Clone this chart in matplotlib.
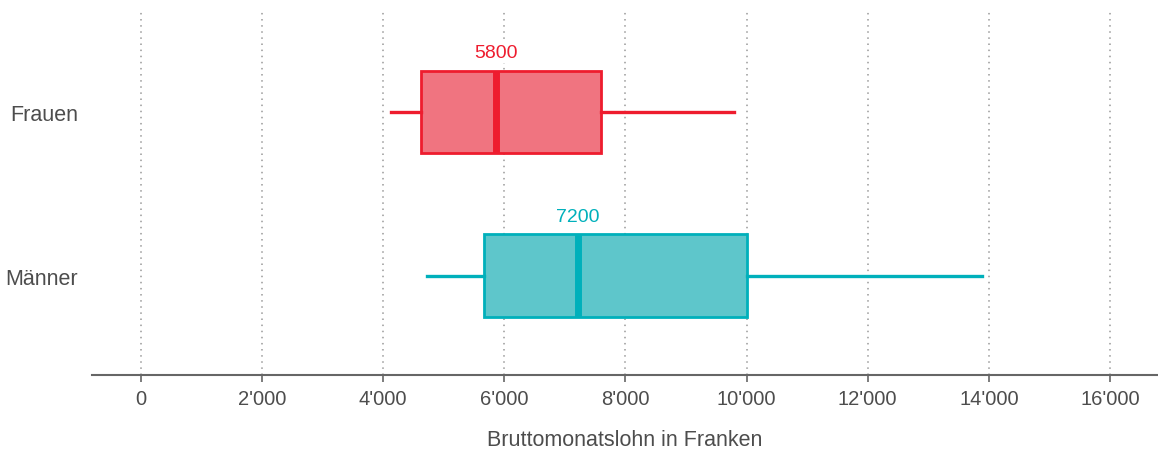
import matplotlib
matplotlib.use("Agg")
from matplotlib import pyplot as plt
from matplotlib.ticker import FuncFormatter

plt.rcParams['font.family'] = ['Liberation Sans', 'DejaVu Sans']

# Bruttomonatslohn, Boxplot-Kennzahlen
groups = ["Männer", "Frauen"]
whisker_low = [4720, 4130]
q1 = [5660, 4620]
median = [7210, 5860]
q3 = [10000, 7600]
whisker_high = [13880, 9790]
median_labels = ["7200", "5800"]
edge_colors = ["#00B0BB", "#EE1C2E"]
fill_colors = ["#5EC6CB", "#F07480"]
xticks = [0, 2000, 4000, 6000, 8000, 10000, 12000, 14000, 16000]

fig = plt.figure(figsize=(11.58, 4.52), dpi=100)
ax = fig.add_axes([92 / 1158, 1 - 376 / 452, 1 - 92 / 1158, (376 - 12) / 452])

stats = []
for i in range(len(groups)):
    stats.append({"whislo": whisker_low[i], "q1": q1[i], "med": median[i],
                  "q3": q3[i], "whishi": whisker_high[i], "fliers": []})

positions = list(range(len(groups)))
bp = ax.bxp(stats, positions=positions, orientation="horizontal", widths=0.506,
            patch_artist=True, showcaps=False, showfliers=False)

for i in range(len(groups)):
    bp["boxes"][i].set_facecolor(fill_colors[i])
    bp["boxes"][i].set_edgecolor(edge_colors[i])
    bp["boxes"][i].set_linewidth(2)
    bp["boxes"][i].set_zorder(3)
    bp["medians"][i].set_color(edge_colors[i])
    bp["medians"][i].set_linewidth(5)
    bp["medians"][i].set_zorder(4)
    for w in bp["whiskers"][2 * i:2 * i + 2]:
        w.set_color(edge_colors[i])
        w.set_linewidth(2.4)
        w.set_zorder(3)
    ax.text(median[i], positions[i] + 0.31, median_labels[i], color=edge_colors[i],
            ha="center", va="bottom", fontsize=14,
            bbox=dict(facecolor="white", edgecolor="none", pad=1), zorder=5)

ax.set_xlim(-809, 16793)
ax.set_ylim(-0.604, 1.616)
ax.set_xticks(xticks)
ax.xaxis.set_major_formatter(FuncFormatter(lambda v, p: f"{int(v):,}".replace(",", "'")))
ax.set_yticks(positions)
ax.set_yticklabels(groups)

ax.grid(axis="x", linestyle=(0, (1, 3)), color="#999999", linewidth=1.1, zorder=0)
ax.set_axisbelow(True)
for s in ["top", "right", "left"]:
    ax.spines[s].set_visible(False)
ax.spines["bottom"].set_color("#666666")
ax.spines["bottom"].set_linewidth(1.5)
ax.tick_params(axis="x", colors="#666666", labelcolor="#4d4d4d", labelsize=14.5,
               length=5, width=1.2, pad=5)
ax.tick_params(axis="y", length=0, labelcolor="#4d4d4d", labelsize=15.5, pad=10)
ax.set_xlabel("Bruttomonatslohn in Franken", fontsize=15.5, color="#4d4d4d", labelpad=15)

fig.savefig("out.png", dpi=100)
